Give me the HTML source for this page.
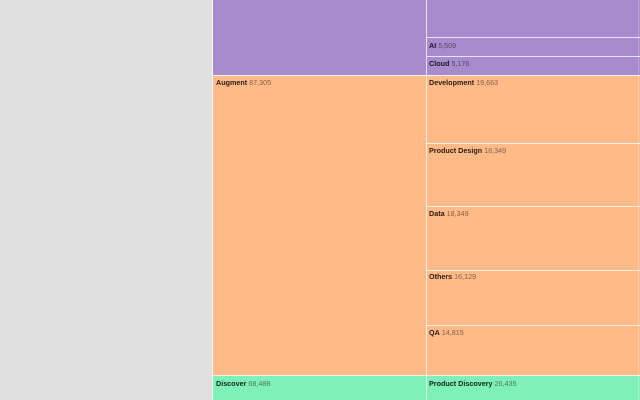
<!DOCTYPE html>
<html><head><meta charset="utf-8"><style>
html,body{margin:0;padding:0;width:640px;height:400px;overflow:hidden;background:#e0e0e0;}
.c{position:absolute;}
.p{background:#a78bcc;}
.o{background:#ffba87;}
.g{background:#80f0b9;}
.hl{position:absolute;height:1px;background:rgba(255,255,255,0.75);}
.vl{position:absolute;width:1px;background:rgba(255,255,255,0.75);}
.t{position:absolute;font-family:"Liberation Sans",sans-serif;font-size:7.2px;line-height:8px;white-space:nowrap;color:rgba(0,0,0,0.85);}
.t b{font-weight:bold;}
.t span{color:rgba(0,0,0,0.5);}
</style></head><body>
<div class="c p" style="left:213px;top:0;width:427px;height:75px;"></div>
<div class="c o" style="left:213px;top:76px;width:427px;height:300px;"></div>
<div class="c g" style="left:213px;top:376px;width:427px;height:24px;"></div>

<div class="vl" style="left:212px;top:0;height:400px;"></div>
<div class="vl" style="left:426px;top:0;height:400px;"></div>
<div class="vl" style="left:638px;top:0;height:400px;opacity:0.3"></div>

<div class="hl" style="left:427px;top:37px;width:213px;"></div>
<div class="hl" style="left:427px;top:56px;width:213px;"></div>
<div class="hl" style="left:213px;top:75px;width:427px;"></div>
<div class="hl" style="left:427px;top:143px;width:213px;"></div>
<div class="hl" style="left:427px;top:206px;width:213px;"></div>
<div class="hl" style="left:427px;top:270px;width:213px;"></div>
<div class="hl" style="left:427px;top:325px;width:213px;"></div>
<div class="hl" style="left:213px;top:375px;width:427px;"></div>

<div class="t" style="left:429px;top:42px;"><b>AI</b> <span>5,509</span></div>
<div class="t" style="left:429px;top:60px;"><b>Cloud</b> <span>5,176</span></div>
<div class="t" style="left:216px;top:79px;"><b>Augment</b> <span>87,305</span></div>
<div class="t" style="left:429px;top:79px;"><b>Development</b> <span>19,663</span></div>
<div class="t" style="left:429px;top:147px;"><b>Product Design</b> <span>18,349</span></div>
<div class="t" style="left:429px;top:210px;"><b>Data</b> <span>18,349</span></div>
<div class="t" style="left:429px;top:273px;"><b>Others</b> <span>16,129</span></div>
<div class="t" style="left:429px;top:329px;"><b>QA</b> <span>14,815</span></div>
<div class="t" style="left:216px;top:380px;"><b>Discover</b> <span>68,488</span></div>
<div class="t" style="left:429px;top:380px;"><b>Product Discovery</b> <span>26,435</span></div>
</body></html>
